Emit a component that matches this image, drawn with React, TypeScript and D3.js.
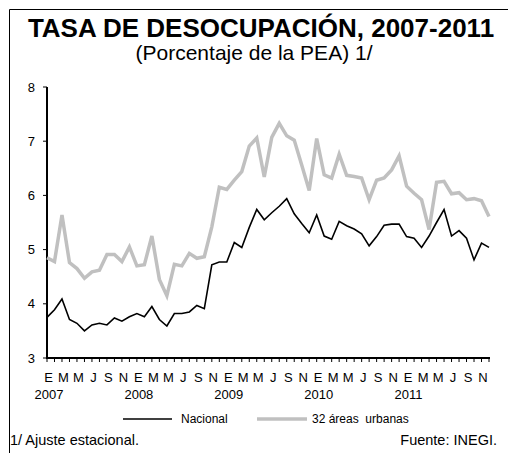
import React from 'react';
import * as d3 from 'd3';

// Monthly unemployment rate, Jan 2007 - Dec 2011 (seasonally adjusted)
const YEARS = ['2007', '2008', '2009', '2010', '2011'];
const MONTH_LABELS = ['E', 'M', 'M', 'J', 'S', 'N'];
const Y_TICKS = [3, 4, 5, 6, 7, 8];

const NACIONAL = [
  3.75, 3.89, 4.09, 3.71, 3.64, 3.50, 3.61, 3.64, 3.61, 3.74, 3.68, 3.76,
  3.82, 3.76, 3.95, 3.71, 3.59, 3.82, 3.82, 3.85, 3.97, 3.91, 4.72, 4.77,
  4.77, 5.13, 5.04, 5.41, 5.74, 5.55, 5.68, 5.80, 5.94, 5.66, 5.48, 5.31,
  5.64, 5.25, 5.19, 5.52, 5.44, 5.38, 5.29, 5.07, 5.24, 5.45, 5.47, 5.47,
  5.24, 5.21, 5.04, 5.25, 5.50, 5.74, 5.25, 5.35, 5.21, 4.81, 5.12, 5.04,
];

const URBANAS = [
  4.85, 4.78, 5.64, 4.76, 4.65, 4.47, 4.59, 4.62, 4.91, 4.91, 4.78, 5.05,
  4.70, 4.72, 5.25, 4.45, 4.15, 4.73, 4.70, 4.93, 4.84, 4.87, 5.42, 6.15,
  6.11, 6.28, 6.44, 6.91, 7.06, 6.34, 7.07, 7.33, 7.10, 7.02, 6.56, 6.09,
  7.05, 6.38, 6.32, 6.76, 6.37, 6.35, 6.32, 5.92, 6.28, 6.32, 6.47, 6.73,
  6.17, 6.04, 5.92, 5.37, 6.24, 6.26, 6.03, 6.05, 5.92, 5.94, 5.90, 5.61,
];

const W = 508;
const H = 453;
const FONT = 'Arial, "Liberation Sans", sans-serif';

const App: React.FC = () => {
  const x = d3.scaleLinear().domain([0, NACIONAL.length - 1]).range([47, 489]);
  const y = d3.scaleLinear().domain([3, 8]).range([358, 87]);

  const line = d3.line<number>()
    .x((_, i) => x(i))
    .y(d => y(d));

  const months = d3.range(NACIONAL.length);

  return (
    <div style={{ position: 'absolute', left: 0, top: 0, width: W, height: H, background: '#fff' }}>
      <svg width={W} height={H} style={{ display: 'block' }} fontFamily={FONT}>
        <rect x={0} y={0} width={W} height={H} fill="#fff" />
        {/* frame */}
        <path d={`M9.5,${H} V9.5 H${W}`} fill="none" stroke="#000" strokeWidth={1} />

        <text x={261} y={37} textAnchor="middle" fontSize={26} fontWeight="bold">
          TASA DE DESOCUPACIÓN, 2007-2011
        </text>
        <text x={254} y={60} textAnchor="middle" fontSize={21}>
          (Porcentaje de la PEA) 1/
        </text>

        {/* y axis */}
        <line x1={x(0)} x2={x(0)} y1={y(8)} y2={y(3)} stroke="#000" strokeWidth={2} />
        {Y_TICKS.map(t => (
          <g key={t}>
            <line x1={x(0) - 4} x2={x(0)} y1={y(t)} y2={y(t)} stroke="#000" strokeWidth={1} />
            <text x={35} y={y(t)} dy="0.35em" textAnchor="end" fontSize={13}>{t}</text>
          </g>
        ))}

        {/* x axis */}
        <line x1={x(0) - 1} x2={x(months.length - 1) + 1} y1={y(3)} y2={y(3)} stroke="#000" strokeWidth={2} />
        {months.map(m => (
          <line key={m} x1={x(m)} x2={x(m)} y1={y(3)} y2={y(3) + 4} stroke="#000" strokeWidth={1} />
        ))}
        {YEARS.map((yr, yi) => (
          <g key={yr}>
            {MONTH_LABELS.map((lab, li) => (
              <text key={li} x={x(yi * 12 + li * 2) + 1.5} y={382} textAnchor="middle" fontSize={13}>{lab}</text>
            ))}
            <text x={x(yi * 12) + 2} y={399} textAnchor="middle" fontSize={13}>{yr}</text>
          </g>
        ))}

        {/* series */}
        <path d={line(URBANAS) ?? ''} fill="none" stroke="#c0c0c0" strokeWidth={3.5} strokeLinejoin="miter" />
        <path d={line(NACIONAL) ?? ''} fill="none" stroke="#000" strokeWidth={1.6} strokeLinejoin="miter" />

        {/* legend */}
        <line x1={123} x2={172} y1={419} y2={419} stroke="#000" strokeWidth={1.6} />
        <text x={181} y={419} dy="0.35em" fontSize={12}>Nacional</text>
        <line x1={257} x2={307} y1={419} y2={419} stroke="#c0c0c0" strokeWidth={3.5} />
        <text x={312} y={419} dy="0.35em" fontSize={12} style={{ whiteSpace: 'pre' }}>32 áreas  urbanas</text>

        {/* footer */}
        <text x={10} y={445} fontSize={14.5}>1/ Ajuste estacional.</text>
        <text x={497} y={445} textAnchor="end" fontSize={14.5}>Fuente: INEGI.</text>
      </svg>
    </div>
  );
};

export default App;
